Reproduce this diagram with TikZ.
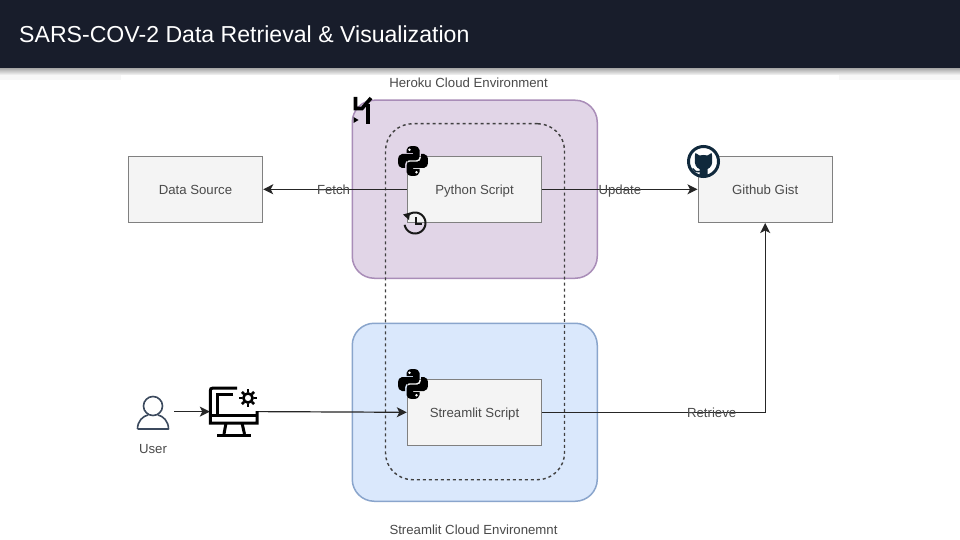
\documentclass[tikz,border=0pt]{standalone}
\usepackage{fontspec}
\setmainfont{Liberation Sans}
\usetikzlibrary{arrows.meta,shadings}
\definecolor{barc}{HTML}{181D2B}
\definecolor{purf}{HTML}{E1D5E7}
\definecolor{purd}{HTML}{A98DB8}
\definecolor{bluf}{HTML}{DAE8FC}
\definecolor{blud}{HTML}{8AA5CC}
\definecolor{boxf}{HTML}{F4F4F4}
\definecolor{boxd}{HTML}{808080}
\definecolor{txt}{HTML}{4A4A4A}
\definecolor{ghc}{HTML}{10293C}
\definecolor{usr}{HTML}{3C4A5E}
\tikzset{
  x=1pt,y=-1pt,
  envbox/.style={rounded corners=22pt,line width=1.5pt,minimum width=245pt,minimum height=178pt,anchor=north west,inner sep=0pt},
  scriptbox/.style={draw=boxd,fill=boxf,line width=1.4pt,minimum width=134pt,minimum height=66pt,anchor=north west,inner sep=0pt,text=txt,text height=9.7pt,text depth=0pt,font=\fontsize{13.2}{16}\selectfont},
  lbl/.style={text=txt,text height=9.7pt,text depth=0pt,font=\fontsize{13.2}{16}\selectfont,inner sep=0pt},
  conn/.style={line width=1.2pt,draw=black!85,-{Stealth[length=10pt,width=10pt,inset=2.5pt]}},
  pics/pylogo/.style={code={
    \fill[black] (8.5,7)--(8.5,4) .. controls (8.5,1.5) and (11,0) .. (15,0) .. controls (19,0) and (21.5,1.5) .. (21.5,4)
      --(21.5,10.5) .. controls (21.5,12.8) and (20,14.3) .. (18,14.3) --(11,14.3) .. controls (8.5,14.3) and (7,16) .. (7,18.5)
      --(7,22)--(4,22) .. controls (1.5,22) and (0,19.5) .. (0,15) .. controls (0,10.5) and (1.5,8) .. (4,8) --(15,8)--(15,7)--cycle;
    \fill[black] (21.5,23)--(21.5,26) .. controls (21.5,28.5) and (19,30) .. (15,30) .. controls (11,30) and (8.5,28.5) .. (8.5,26)
      --(8.5,19.5) .. controls (8.5,17.2) and (10,15.7) .. (12,15.7) --(19,15.7) .. controls (21.5,15.7) and (23,14) .. (23,11.5)
      --(23,8)--(26,8) .. controls (28.5,8) and (30,10.5) .. (30,15) .. controls (30,19.5) and (28.5,22) .. (26,22) --(15,22)--(15,23)--cycle;
    \fill[white] (11.5,3.8) circle[radius=1.4pt];
    \fill[white] (18.5,26.2) circle[radius=1.4pt];
  }}
}
\begin{document}
\begin{tikzpicture}
\useasboundingbox (0,0) rectangle (960,540);
% page and title bar
\fill[white] (0,0) rectangle (960,540);
\fill[black!3] (0,72) rectangle (121,80);
\fill[black!3] (839,72) rectangle (960,80);
\shade[top color=black!35,bottom color=black!3,shading angle=0] (0,68) rectangle (960,75);
\fill[barc] (0,0) rectangle (960,68.5);
\node[anchor=west,text=white,inner sep=0pt,font=\fontsize{23.1}{28}\selectfont] (title) at (19,34) {SARS-COV-2 Data Retrieval \& Visualization};

% environments
\node[envbox,draw=purd,fill=purf] (heroku) at (351.5,99.5) {};
\node[envbox,draw=blud,fill=bluf] (streamenv) at (351.5,322.5) {};
\node[lbl] (herokulbl) at (468.5,83) {Heroku Cloud Environment};
\node[lbl] (streamlbl) at (473.5,530) {Streamlit Cloud Environemnt};
\node[draw=black!75,dash pattern=on 3pt off 3pt,line width=1.4pt,rounded corners=27pt,minimum width=179pt,minimum height=356pt,anchor=north west,inner sep=0pt] (shared) at (384.8,123) {};

% boxes
\node[scriptbox] (data) at (127.8,155.6) {Data Source};
\node[scriptbox] (python) at (406.8,155.6) {Python Script};
\node[scriptbox] (gist) at (697.5,155.6) {Github Gist};
\node[scriptbox] (streamlit) at (406.8,378.6) {Streamlit Script};

% user and computer
\coordinate (userout) at (174,411.6);
\node[lbl] (user) at (153,449) {User};
\node[inner sep=0pt,minimum width=48pt,minimum height=0pt] (comp) at (234,411.6) {};

% connectors
\draw[conn] (python.west) -- node[lbl,pos=0.51] (fetch) {Fetch} (data.east);
\draw[conn] (python.east) -- node[lbl,pos=0.50] (update) {Update} (gist.west);
\draw[conn] (streamlit.east) -- node[lbl,pos=0.76] (retrieve) {Retrieve} (gist.south |- streamlit.east) -- (gist.south);
\draw[conn] (userout) -- (comp.west);
\draw[conn] (comp.east) -- (streamlit.west);

% python logos
\pic at (398,146) {pylogo};
\pic at (398,369) {pylogo};

% clock
\draw[line width=2pt,black!90] plot[domain=-135:170,samples=50] ({415+10.5*cos(\x)},{223+10.5*sin(\x)});
\fill[black!90] (403,214.5)--(410,212.5)--(409,220)--cycle;
\draw[line width=2pt,black!90] (416,217)--(416,223.5)--(422,223.5);

% heroku glyph
\draw[line width=3.6pt,black,line join=miter] (355.5,97)--(355.5,108.5)--(362,108.5)--(371,98);
\draw[line width=3.6pt,black] (368,104)--(368,124);
\fill[black] (353.5,117)--(358.5,120)--(353.5,123)--cycle;

% github icon
\fill[white] (703.5,161.5) circle[radius=15pt];
\draw[ghc,line width=3pt] (703.5,161.5) circle[radius=15pt];
\fill[ghc] (695.5,153) -- (699.5,155.5) .. controls (702,154.8) and (705,154.8) .. (707.5,155.5) -- (711.5,153)
  .. controls (712.3,155.5) and (712.5,157.5) .. (712,159.5) .. controls (713,164) and (710.5,168) .. (707.5,169)
  -- (707.5,176) -- (699.5,176) -- (699.5,169) .. controls (696.5,168) and (694,164) .. (695,159.5) .. controls (694.5,157.5) and (694.7,155.5) .. (695.5,153) -- cycle;
\draw[ghc,line width=1.4pt] (692.5,168.5) .. controls (694,171.5) and (696,172) .. (700,171.5);

% user icon
\draw[usr,line width=1.6pt] (153,406) circle[radius=9.5pt];
\draw[usr,line width=1.6pt,line join=round] (137.5,429) .. controls (137.5,421) and (143,416) .. (148,415) (158,415) .. controls (163,416) and (168.5,421) .. (168.5,429) -- (137.5,429);

% computer icon
\begin{scope}[line width=3pt,black]
\draw (237,388)--(213,388) .. controls (211,388) and (210.3,389) .. (210.3,391)--(210.3,423)--(257,423)--(257,411);
\draw (233,394.5)--(217.5,394.5)--(217.5,415.5);
\draw (210.3,415.5)--(257,415.5);
\draw (226,423)--(224,434);
\draw (242,423)--(244.5,434);
\draw (217,435)--(251,435);
\draw[line width=2.6pt] (248,398) circle[radius=4.6pt];
\foreach \a in {0,45,...,315}
  \draw[line width=2.8pt] ({248+5.6*cos(\a)},{398+5.6*sin(\a)})--({248+8.6*cos(\a)},{398+8.6*sin(\a)});
\end{scope}
\end{tikzpicture}
\end{document}
